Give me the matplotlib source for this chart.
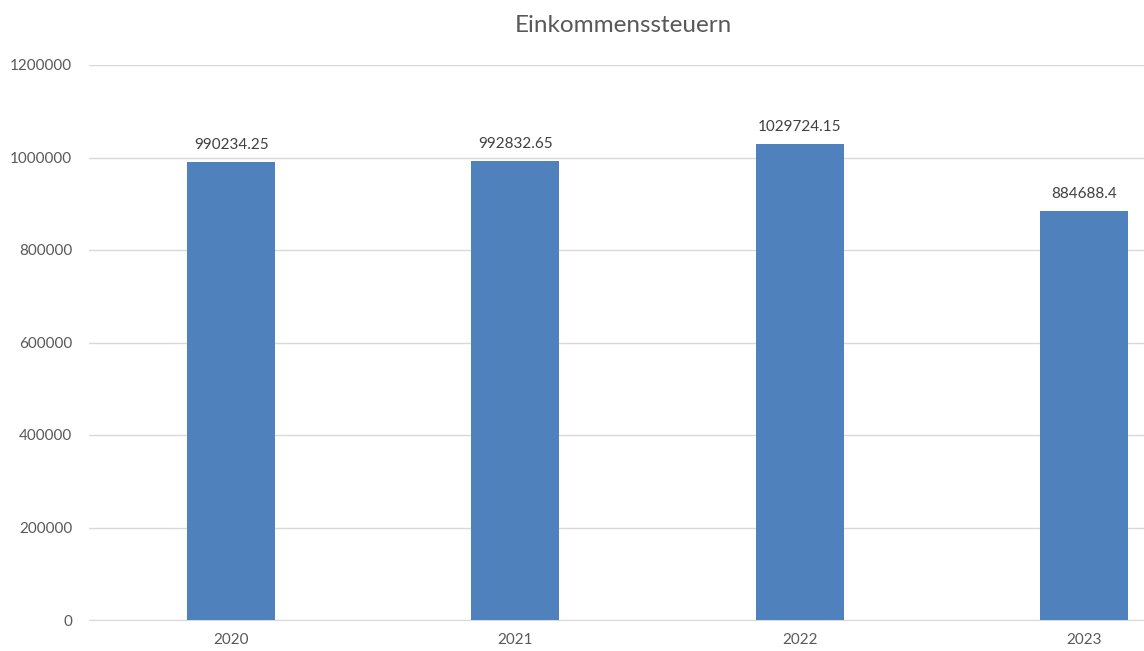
import matplotlib.pyplot as plt
import numpy as np

plt.rcParams['font.family'] = ['Lato', 'DejaVu Sans']

# Data
years = ["2020", "2021", "2022", "2023"]
werte = [990234.25, 992832.65, 1029724.15, 884688.4]
labels = ["990234.25", "992832.65", "1029724.15", "884688.4"]
yticks = [0, 200000, 400000, 600000, 800000, 1000000, 1200000]

W, H = 1144, 651
fig = plt.figure(figsize=(W / 100, H / 100), dpi=100)
# plot area runs past the right edge (cropped screenshot)
left, right = 89 / W, 1226 / W
bottom, top = 1 - 620 / H, 1 - 65 / H
ax = fig.add_axes([left, bottom, right - left, top - bottom])

x = np.arange(len(years))
bars = ax.bar(x, werte, width=0.31, color="#4F81BD", zorder=3)

for xi, v, lab in zip(x, werte, labels):
    ax.annotate(lab, (xi, v), xytext=(0, 7), textcoords="offset points",
                ha="center", va="bottom", fontsize=11, color="#404040")

ax.set_xlim(-0.5, 3.5)
ax.set_ylim(0, 1200000)
ax.set_xticks(x)
ax.set_xticklabels(years)
ax.set_yticks(yticks)
ax.set_yticklabels([str(t) for t in yticks])
ax.tick_params(axis="both", length=0, labelsize=11, colors="#595959")
ax.tick_params(axis="x", pad=9)
ax.tick_params(axis="y", pad=12)

ax.grid(axis="y", color="#D9D9D9", linewidth=1, zorder=0)
for s in ["top", "right", "left"]:
    ax.spines[s].set_visible(False)
ax.spines["bottom"].set_color("#D9D9D9")

fig.text(623 / W, 1 - 26 / H, "Einkommenssteuern", ha="center", va="center",
         fontsize=17.5, color="#595959")

fig.savefig("out.png", dpi=100)
